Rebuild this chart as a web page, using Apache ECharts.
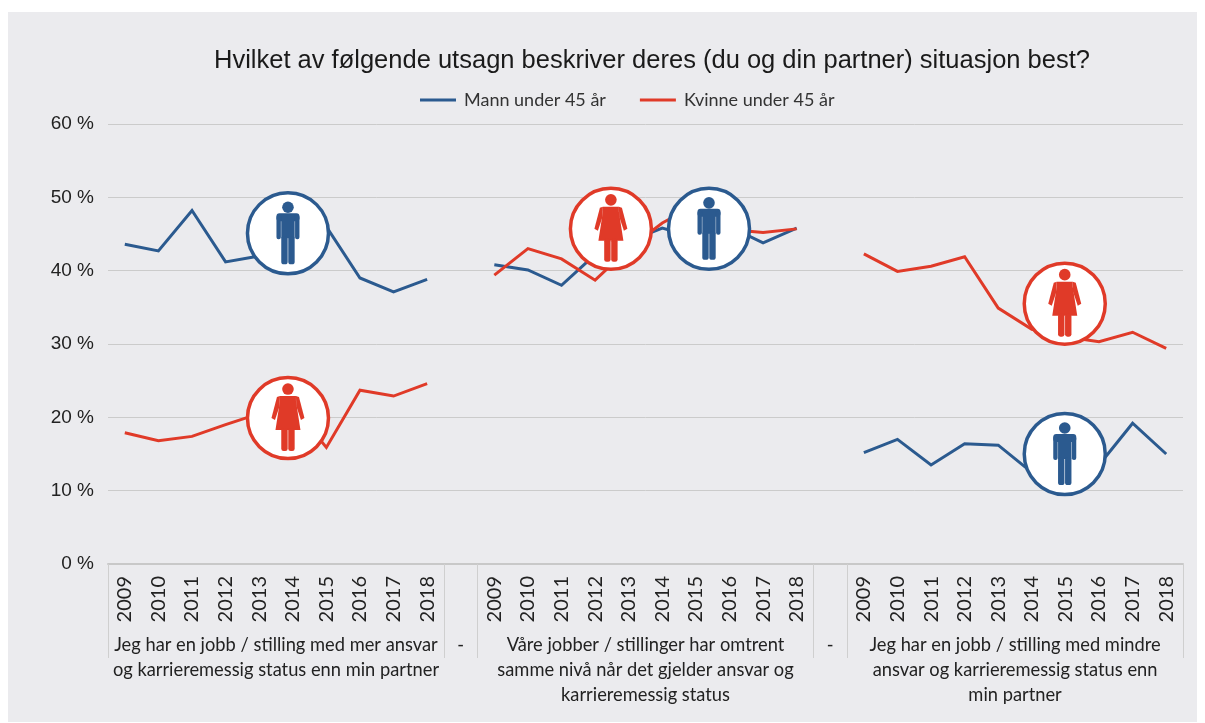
<!DOCTYPE html>
<html><head><meta charset="utf-8">
<style>html,body{margin:0;padding:0;background:#fff}#c{width:1205px;height:723px}</style>
<script src="https://cdn.jsdelivr.net/npm/echarts@6/dist/echarts.min.js"></script>
</head><body><div id="c"></div>
<script>
const years = ['2009','2010','2011','2012','2013','2014','2015','2016','2017','2018'];
const tickLabels = ['0 %','10 %','20 %','30 %','40 %','50 %','60 %'];
const groupLabels = [
  'Jeg har en jobb / stilling med mer ansvar\nog karrieremessig status enn min partner',
  '-',
  'Våre jobber / stillinger har omtrent\nsamme nivå når det gjelder ansvar og\nkarrieremessig status',
  '-',
  'Jeg har en jobb / stilling med mindre\nansvar og karrieremessig status enn\nmin partner'
];
const mannA = [43.6,42.7,48.2,41.2,42.0,44.0,46.0,39.0,37.1,38.8];
const mannB = [40.8,40.1,38.0,42.2,44.0,45.8,44.5,46.0,43.8,45.8];
const mannC = [15.2,17.0,13.5,16.4,16.2,12.5,11.5,13.5,19.2,15.0];
const kvinneA = [17.9,16.8,17.4,19.0,20.5,21.5,15.9,23.7,22.9,24.6];
const kvinneB = [39.4,43.0,41.6,38.7,43.0,46.5,49.0,45.6,45.2,45.7];
const kvinneC = [42.3,39.9,40.6,41.9,34.9,32.0,31.0,30.3,31.6,29.4];
const seriesNames = ['Mann under 45 år','Kvinne under 45 år'];
const titleText = 'Hvilket av følgende utsagn beskriver deres (du og din partner) situasjon best?';
const badgeX = [5.357,5.357,14.97,17.89,28.48,28.48];
const badgeY = [45.1,19.9,45.7,45.7,35.5,15.0];
const badgeKind = [0,1,1,0,1,0];

const BLUE='#2b5a8f', RED='#e03a28';
const cats = [...years,' ',...years,' ',...years];
const join = (a,b,c)=>[...a,null,...b,null,...c];
const groupPos = [5,10.5,16,21.5,27];
const boundaries = [0,10,11,21,22,32];

function renderBadge(params, api){
  const p = api.coord([api.value(0), api.value(1)]);
  const kind = api.value(2), col = kind===0?BLUE:RED;
  const st = {fill:col};
  const rect=(x,y,w,h,r)=>({type:'rect',shape:{x,y,width:w,height:h,r:r||0},style:st});
  const poly=(pts)=>({type:'polygon',shape:{points:pts},style:st});
  const circle=(cx,cy,r)=>({type:'circle',shape:{cx,cy,r},style:st});
  let ch = [{type:'circle',shape:{cx:0,cy:0,r:40.5},style:{fill:'#fff',stroke:col,lineWidth:3.5}}];
  if(kind===0){
    ch = ch.concat([
      circle(0,-26,5.8),
      rect(-11.5,-20,23,8,3),
      rect(-11.5,-18,4.4,24,2), rect(7.1,-18,4.4,24,2),
      rect(-6.7,-19,13.4,24),
      rect(-6.7,3,6.4,28,2.6), rect(0.3,3,6.4,28,2.6)
    ]);
  } else {
    ch = ch.concat([
      circle(0,-29,5.8),
      poly([[-8,-22],[8,-22],[8,-17],[12.5,12],[-12.5,12],[-8,-17]]),
      poly([[-8,-22],[-11,-21],[-16.5,0],[-13,2],[-8.3,-12]]),
      poly([[8,-22],[11,-21],[16.5,0],[13,2],[8.3,-12]]),
      rect(-6.7,10,6.4,23,2.4), rect(0.3,10,6.4,23,2.4)
    ]);
  }
  return {type:'group',x:p[0],y:p[1],children:ch};
}

const chart = echarts.init(document.getElementById('c'),null,{renderer:'canvas'});
chart.setOption({
  animation:false,
  backgroundColor:'#fff',
  graphic:[{type:'rect',z:-10,silent:true,shape:{x:8,y:12,width:1189,height:710},style:{fill:'#ebebee'}}],
  title:{text:titleText,left:214,top:48,padding:0,textStyle:{fontFamily:'Liberation Sans',fontSize:25.5,fontWeight:'normal',color:'#1a1a1a'}},
  legend:{left:415,top:86,data:seriesNames,itemWidth:36,itemHeight:18,itemGap:34,
    icon:'path://M0 0H36V3H0Z',
    textStyle:{fontFamily:'Lato',fontSize:18,color:'#333',padding:[0,0,0,3]}},
  grid:{left:108,right:22,top:124,bottom:159},
  xAxis:[
    {type:'category',data:cats,gridIndex:0,position:'bottom',
     axisLine:{lineStyle:{color:'#c8c8c8',width:2}},axisTick:{show:false},
     axisLabel:{interval:0,rotate:90,margin:12,fontFamily:'Lato',fontSize:20,color:'#222'}},
    {type:'value',min:0,max:32,gridIndex:0,position:'bottom',
     axisLine:{show:false},splitLine:{show:false},
     axisTick:{show:true,customValues:boundaries,length:94,lineStyle:{color:'#cfcfcf',width:1}},
     axisLabel:{show:true,customValues:groupPos,margin:69,
       formatter:v=>groupLabels[groupPos.indexOf(v)],
       fontFamily:'Lato',fontSize:18.3,lineHeight:25,color:'#222',align:'center',verticalAlign:'top'}}
  ],
  yAxis:{type:'value',min:0,max:60,interval:10,
    axisLine:{show:false},axisTick:{show:false},
    splitLine:{lineStyle:{color:'#cbcbcb',width:1}},
    axisLabel:{margin:14,formatter:v=>tickLabels[v/10],fontFamily:'Liberation Sans',fontSize:19,color:'#222'}},
  series:[
    {name:seriesNames[0],type:'line',xAxisIndex:0,data:join(mannA,mannB,mannC),symbol:'none',z:3,
     lineStyle:{color:BLUE,width:3,join:'miter'},itemStyle:{color:BLUE}},
    {name:seriesNames[1],type:'line',xAxisIndex:0,data:join(kvinneA,kvinneB,kvinneC),symbol:'none',z:4,
     lineStyle:{color:RED,width:3,join:'miter'},itemStyle:{color:RED}},
    {name:'badges',type:'custom',xAxisIndex:1,yAxisIndex:0,z:10,clip:false,silent:true,
     data:badgeX.map((x,i)=>[x,badgeY[i],badgeKind[i]]),
     encode:{x:0,y:1},renderItem:renderBadge}
  ]
});
</script></body></html>
